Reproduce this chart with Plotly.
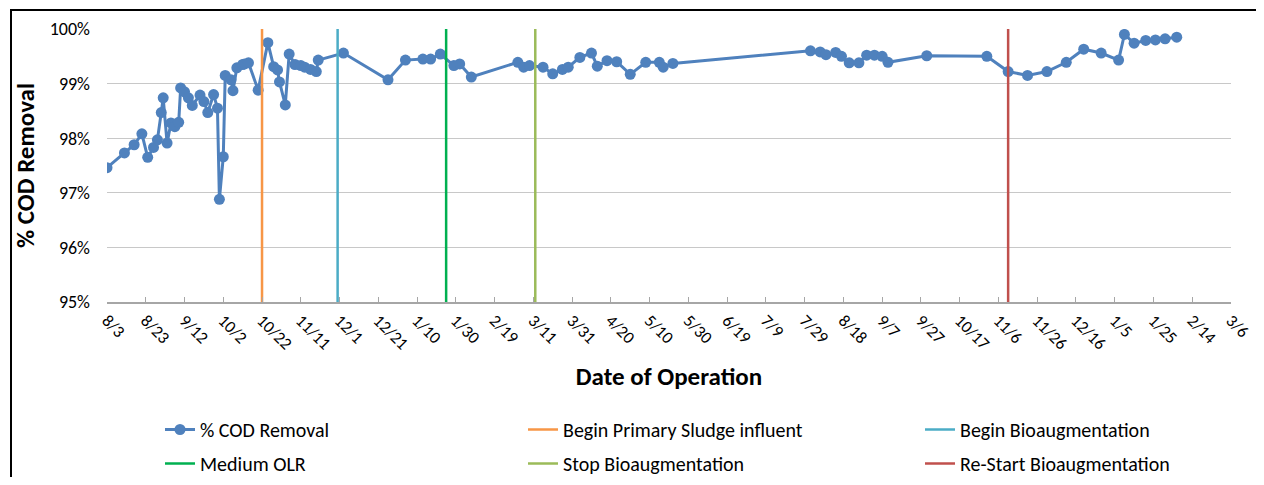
import plotly.graph_objects as go

# ---- data ----
dates = [
    "2013-08-03", "2013-08-12", "2013-08-17", "2013-08-21", "2013-08-24", "2013-08-27",
    "2013-08-29", "2013-08-31", "2013-09-01", "2013-09-03", "2013-09-05", "2013-09-07",
    "2013-09-09", "2013-09-10", "2013-09-12", "2013-09-14", "2013-09-16", "2013-09-20",
    "2013-09-22", "2013-09-24", "2013-09-27", "2013-09-29", "2013-09-30", "2013-10-02",
    "2013-10-03", "2013-10-06", "2013-10-07", "2013-10-09", "2013-10-12", "2013-10-13",
    "2013-10-15", "2013-10-20", "2013-10-25", "2013-10-28", "2013-10-30", "2013-10-31",
    "2013-11-03", "2013-11-05", "2013-11-08", "2013-11-11", "2013-11-13", "2013-11-16",
    "2013-11-19", "2013-11-20", "2013-12-03", "2013-12-26", "2014-01-04", "2014-01-13",
    "2014-01-17", "2014-01-22", "2014-01-29", "2014-02-01", "2014-02-07", "2014-03-03",
    "2014-03-06", "2014-03-09", "2014-03-16", "2014-03-21", "2014-03-26", "2014-03-29",
    "2014-04-04", "2014-04-10", "2014-04-13", "2014-04-18", "2014-04-23", "2014-04-30",
    "2014-05-08", "2014-05-15", "2014-05-17", "2014-05-22", "2014-08-01", "2014-08-06",
    "2014-08-09", "2014-08-14", "2014-08-17", "2014-08-21", "2014-08-26", "2014-08-30",
    "2014-09-03", "2014-09-07", "2014-09-10", "2014-09-30", "2014-10-31", "2014-11-11",
    "2014-11-21", "2014-12-01", "2014-12-11", "2014-12-20", "2014-12-29", "2015-01-07",
    "2015-01-10", "2015-01-15", "2015-01-21", "2015-01-26", "2015-01-31", "2015-02-06",
]
cod_removal = [
    97.46, 97.73, 97.88, 98.08, 97.65, 97.83,
    97.97, 98.47, 98.74, 97.91, 98.28, 98.21,
    98.29, 98.92, 98.85, 98.74, 98.60, 98.79,
    98.67, 98.47, 98.80, 98.55, 96.88, 97.66,
    99.15, 99.07, 98.87, 99.29, 99.35, 99.36,
    99.38, 98.88, 99.75, 99.31, 99.25, 99.03,
    98.61, 99.54, 99.35, 99.33, 99.30, 99.26,
    99.22, 99.43, 99.56, 99.07, 99.43, 99.45,
    99.45, 99.54, 99.33, 99.36, 99.12, 99.39,
    99.30, 99.33, 99.30, 99.18, 99.26, 99.30,
    99.48, 99.56, 99.32, 99.42, 99.40, 99.17,
    99.39, 99.39, 99.30, 99.37, 99.60, 99.58,
    99.53, 99.57, 99.50, 99.38, 99.38, 99.52,
    99.52, 99.50, 99.39, 99.51, 99.50, 99.22,
    99.15, 99.22, 99.39, 99.63, 99.56, 99.43,
    99.90, 99.74, 99.79, 99.80, 99.82, 99.85,
]

event_names = ["Begin Primary Sludge influent", "Begin Bioaugmentation", "Medium OLR",
               "Stop Bioaugmentation", "Re-Start Bioaugmentation"]
event_dates = ["2013-10-22", "2013-11-30", "2014-01-25", "2014-03-12", "2014-11-11"]
event_colors = ["#F79646", "#4BACC6", "#00B050", "#9BBB59", "#C0504D"]
event_legend = ["legend", "legend", "legend2", "legend2", "legend2"]
event_column = [1, 2, 0, 1, 2]

tick_dates = [
    "2013-08-03", "2013-08-23", "2013-09-12", "2013-10-02", "2013-10-22", "2013-11-11",
    "2013-12-01", "2013-12-21", "2014-01-10", "2014-01-30", "2014-02-19", "2014-03-11",
    "2014-03-31", "2014-04-20", "2014-05-10", "2014-05-30", "2014-06-19", "2014-07-09",
    "2014-07-29", "2014-08-18", "2014-09-07", "2014-09-27", "2014-10-17", "2014-11-06",
    "2014-11-26", "2014-12-16", "2015-01-05", "2015-01-25", "2015-02-14", "2015-03-06",
]
tick_labels = [
    "8/3", "8/23", "9/12", "10/2", "10/22", "11/11", "12/1", "12/21", "1/10", "1/30",
    "2/19", "3/11", "3/31", "4/20", "5/10", "5/30", "6/19", "7/9", "7/29", "8/18",
    "9/7", "9/27", "10/17", "11/6", "11/26", "12/16", "1/5", "1/25", "2/14", "3/6",
]
y_ticks = [95, 96, 97, 98, 99, 100]
y_labels = ["95%", "96%", "97%", "98%", "99%", "100%"]
y_range = [95, 100]
x_range = ["2013-08-03", "2015-03-06"]

FONT = "Carlito, Lato, 'Liberation Sans', sans-serif"

# column widths of the legend (text part), px
col_widths = [318, 352, 300]

fig = go.Figure()
fig.add_trace(go.Scatter(
    x=dates, y=cod_removal, mode="lines+markers", name="% COD Removal",
    line=dict(color="#4F81BD", width=3),
    marker=dict(color="#4F81BD", size=11, symbol="circle"),
    legend="legend", legendwidth=col_widths[0],
))
for name, d, c, lg, col in zip(event_names, event_dates, event_colors, event_legend, event_column):
    fig.add_trace(go.Scatter(
        x=[d, d], y=y_range, mode="lines", name=name,
        line=dict(color=c, width=2.5), legend=lg, legendwidth=col_widths[col],
    ))

# page has an 8px body margin; figure sized so it fills the 1264x485 window
OFF = 8
W, H = 1264 - 2 * OFF, 485 - 2 * OFF
# plot area in window pixels
PL, PR, PT, PB = 107, 1231, 29, 302
pw, ph = PR - PL, PB - PT


def px_x(p):
    return (p - PL) / pw


def px_y(p):
    return (PB - p) / ph


legend_common = dict(
    orientation="h", xanchor="left", yanchor="top",
    font=dict(family=FONT, size=20, color="#000000"),
    entrywidthmode="pixels", borderwidth=0, tracegroupgap=0,
    bgcolor="rgba(0,0,0,0)", itemwidth=30,
)

fig.update_layout(
    width=W, height=H,
    margin=dict(l=PL - OFF, r=W - (PR - OFF), t=PT - OFF, b=H - (PB - OFF), autoexpand=False),
    paper_bgcolor="white", plot_bgcolor="white",
    font=dict(family=FONT, size=18, color="#000000"),
    showlegend=True,
    legend=dict(x=px_x(160), y=px_y(410), **legend_common),
    legend2=dict(x=px_x(160), y=px_y(444), **legend_common),
    xaxis=dict(
        type="date", range=x_range, tickvals=tick_dates, ticktext=tick_labels,
        tickangle=45, showgrid=False, showline=True, linecolor="#A6A6A6", linewidth=1.5,
        ticks="inside", ticklen=5, tickcolor="#A6A6A6", tickfont=dict(size=17),
        zeroline=False,
        title=dict(text="<b>Date of Operation</b>", font=dict(size=25), standoff=14),
    ),
    yaxis=dict(
        range=y_range, tickvals=y_ticks, ticktext=y_labels, showgrid=True,
        gridcolor="#C8C8C8", gridwidth=1.2, showline=False, zeroline=False,
        ticks="", tickfont=dict(size=18), ticklabelstandoff=16,
        title=dict(text="<b>% COD Removal</b>", font=dict(size=25), standoff=8),
    ),
    shapes=[dict(
        type="rect", xref="paper", yref="paper",
        x0=px_x(11), x1=px_x(1290), y0=px_y(500), y1=px_y(10),
        line=dict(color="#000000", width=2), fillcolor="rgba(0,0,0,0)", layer="above",
    )],
)

fig.write_html("out.html")
